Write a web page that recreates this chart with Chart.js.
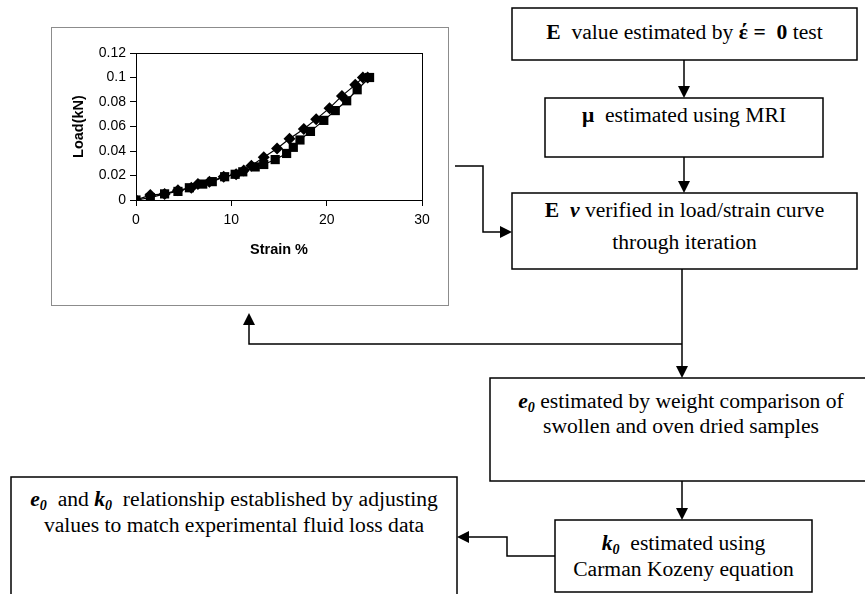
<!DOCTYPE html>
<html>
<head>
<meta charset="utf-8">
<title>Load / strain flowchart</title>
<script src="https://cdn.jsdelivr.net/npm/chart.js@4"></script>
<style>
  html, body { margin: 0; padding: 0; background: #fff; }
  body {
    width: 865px; height: 594px; position: relative; overflow: hidden;
    font-family: "Liberation Serif", "DejaVu Serif", serif; color: #000;
  }
  #flow { position: absolute; left: 0; top: 0; }
  .chart-frame {
    position: absolute; left: 51px; top: 27px; width: 396px; height: 277px;
    border: 1px solid #8c8c8c; background: #fff;
  }
  .txt { position: absolute; text-align: center; font-size: 21.6px; white-space: nowrap; }
  sub { font-size: 65%; vertical-align: -0.25em; line-height: 0; }
</style>
</head>
<body>

<svg id="flow" width="865" height="594" xmlns="http://www.w3.org/2000/svg">
  <g fill="none" stroke="#000" stroke-width="1.5">
    <!-- boxes -->
    <rect x="512" y="8" width="345" height="52"/>
    <rect x="545" y="98" width="278" height="59"/>
    <rect x="512" y="193" width="345" height="76"/>
    <rect x="490" y="378" width="390" height="103"/>
    <rect x="555" y="520" width="257" height="72"/>
    <rect x="11" y="477" width="446" height="140"/>
    <!-- connectors -->
    <path d="M684 60 V88"/>
    <path d="M684 157 V183"/>
    <path d="M455 166 H483 V232 H502"/>
    <path d="M682 269 V368"/>
    <path d="M682 344 H249 V323"/>
    <path d="M682 481 V510"/>
    <path d="M555 556 H507 V537 H467"/>
  </g>
  <g fill="#000">
    <polygon points="678,86 690,86 684,98"/>
    <polygon points="678,181 690,181 684,193"/>
    <polygon points="500,226 500,238 512,232"/>
    <polygon points="676,366 688,366 682,378"/>
    <polygon points="243,325 255,325 249,313"/>
    <polygon points="676,508 688,508 682,520"/>
    <polygon points="469,531 469,543 457,537"/>
  </g>
</svg>

<div class="chart-frame">
  <canvas id="loadChart" width="396" height="277"></canvas>
</div>

<div class="txt" style="left:512px; width:345px; top:19px; line-height:26px;">
  <b>E</b>&nbsp; value estimated by <b>έ =&nbsp; 0</b> test
</div>
<div class="txt" style="left:545px; width:278px; top:102px; line-height:26px;">
  <b>μ</b>&nbsp; estimated using MRI
</div>
<div class="txt" style="left:512px; width:345px; top:194px; line-height:32px;">
  <b>E</b>&nbsp; <b><i>ν</i></b> verified in load/strain curve<br>through iteration
</div>
<div class="txt" style="left:490px; width:382px; top:389px; line-height:25px;">
  <b><i>e<sub>0</sub></i></b> estimated by weight comparison of<br>swollen and oven dried samples
</div>
<div class="txt" style="left:555px; width:257px; top:530px; line-height:26px;">
  <b><i>k<sub>0</sub></i></b>&nbsp; estimated using<br>Carman Kozeny equation
</div>
<div class="txt" style="left:11px; width:446px; top:486px; line-height:26px;">
  <b><i>e<sub>0</sub></i></b>&nbsp; and <b><i>k<sub>0</sub></i></b>&nbsp; relationship established by adjusting<br>values to match experimental fluid loss data
</div>

<script>
// measured load/strain curve, two runs
const strainA = [0, 1.5, 3, 4.4, 5.8, 6.5, 7.7, 9.2, 10.5, 11.3, 12.1, 13.4, 14.8, 16.1, 17.6, 18.9, 20.3, 21.6, 23.0, 23.8, 24.3];
const loadA = [0, 0.004, 0.005, 0.008, 0.010, 0.013, 0.015, 0.019, 0.021, 0.024, 0.028, 0.035, 0.042, 0.050, 0.058, 0.066, 0.075, 0.085, 0.094, 0.100, 0.100];

const strainB = [0, 1.5, 3, 4.4, 5.6, 7, 8, 9.3, 10.4, 11.2, 12.5, 13.4, 14.6, 15.8, 16.5, 17.2, 18.3, 19.7, 20.9, 22.1, 23.2, 24.5];
const loadB = [0, 0.002, 0.005, 0.007, 0.010, 0.013, 0.015, 0.019, 0.021, 0.023, 0.027, 0.029, 0.033, 0.038, 0.043, 0.049, 0.056, 0.065, 0.073, 0.081, 0.090, 0.100];

const xTickLabels = ["0", "10", "20", "30"];
const yTickLabels = ["0", "0.02", "0.04", "0.06", "0.08", "0.1", "0.12"];

function toPoints(xs, ys) {
  return xs.map((x, i) => ({ x: x, y: ys[i] }));
}

// black box round the plot area, like the old spreadsheet charts
const plotFrame = {
  id: "plotFrame",
  beforeDatasetsDraw(chart) {
    const a = chart.chartArea;
    const ctx = chart.ctx;
    ctx.save();
    ctx.strokeStyle = "#000";
    ctx.lineWidth = 1;
    ctx.strokeRect(Math.round(a.left) + 0.5, Math.round(a.top) + 0.5,
      Math.round(a.right - a.left), Math.round(a.bottom - a.top));
    ctx.restore();
  },
};

const tickFont = { family: "'Liberation Sans', Arial, sans-serif", size: 14 };
const titleFont = { family: "'Liberation Sans', Arial, sans-serif", size: 14.5, weight: "bold" };

new Chart(document.getElementById("loadChart"), {
  type: "line",
  data: {
    datasets: [
      {
        label: "run 1",
        data: toPoints(strainA, loadA),
        borderColor: "#000",
        backgroundColor: "#000",
        borderWidth: 1.2,
        pointStyle: "rectRot",
        pointRadius: 6,
        pointBorderWidth: 0,
      },
      {
        label: "run 2",
        data: toPoints(strainB, loadB),
        borderColor: "#000",
        backgroundColor: "#000",
        borderWidth: 1.2,
        pointStyle: "rect",
        pointRadius: 6.5,
        pointBorderWidth: 0,
      },
    ],
  },
  options: {
    responsive: false,
    animation: false,
    layout: { padding: { left: 6, right: 26, top: 25, bottom: 0 } },
    plugins: {
      legend: { display: false },
      tooltip: { enabled: false },
    },
    scales: {
      x: {
        type: "linear",
        min: 0,
        max: 30,
        afterFit: (scale) => { scale.height = 105; },
        ticks: {
          stepSize: 10,
          color: "#000",
          font: tickFont,
          padding: 6,
          maxRotation: 0,
          callback: (v, i) => xTickLabels[i],
        },
        grid: { drawOnChartArea: false, color: "#000", tickLength: 6 },
        border: { color: "#000" },
        title: {
          display: true,
          text: "Strain %",
          color: "#000",
          font: titleFont,
          padding: { top: 4, bottom: 46 },
        },
      },
      y: {
        min: 0,
        max: 0.12,
        afterFit: (scale) => { scale.width = 78; },
        ticks: {
          stepSize: 0.02,
          color: "#000",
          font: tickFont,
          padding: 4,
          callback: (v, i) => yTickLabels[i],
        },
        grid: { drawOnChartArea: false, color: "#000", tickLength: 6 },
        border: { color: "#000" },
        title: {
          display: true,
          text: "Load(kN)",
          color: "#000",
          font: titleFont,
          padding: { top: 12, bottom: 0 },
        },
      },
    },
  },
  plugins: [plotFrame],
});
</script>
</body>
</html>
